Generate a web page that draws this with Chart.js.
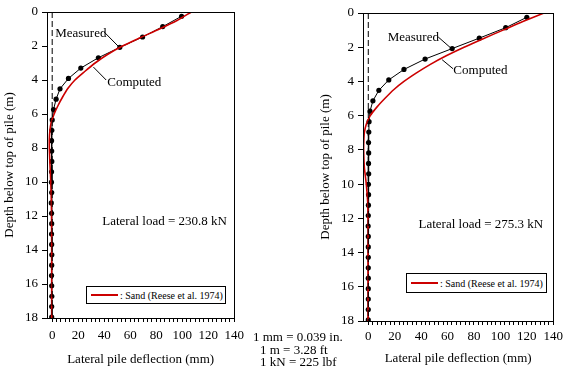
<!DOCTYPE html>
<html><head><meta charset="utf-8">
<script src="https://cdn.jsdelivr.net/npm/chart.js@4/dist/chart.umd.min.js"></script>
<style>
html,body{margin:0;padding:0;background:#fff;}
body{width:567px;height:379px;position:relative;overflow:hidden;font-family:"Liberation Serif","Times New Roman",serif;color:#000;}
canvas{position:absolute;top:0;}
#c1{left:0;}
#c2{left:316px;}
.legend{position:absolute;border:1px solid #000;background:#fff;font-size:10px;box-sizing:border-box;display:flex;align-items:center;white-space:nowrap;}
.legend .swatch{display:inline-block;width:27px;height:2px;background:#cc0000;margin:0 2px 0 4px;}
.conv{position:absolute;font-size:13px;line-height:13px;white-space:nowrap;}
</style></head>
<body>
<canvas id="c1" width="250" height="379"></canvas>
<canvas id="c2" width="251" height="379"></canvas>
<div class="legend" style="left:86px;top:286px;width:140px;height:18px;"><span class="swatch"></span><span id="lg1"></span></div>
<div class="legend" style="left:406px;top:273px;width:141px;height:20px;"><span class="swatch"></span><span id="lg2"></span></div>
<div class="conv" style="left:253px;top:330px;">1 mm = 0.039 in.</div>
<div class="conv" style="left:260px;top:343px;">1 m = 3.28 ft</div>
<div class="conv" style="left:260px;top:355px;">1 kN = 225 lbf</div>
<script>
// ---------- data ----------
const measuredDepth = [0.25, 0.86, 1.47, 2.08, 2.69, 3.30, 3.91, 4.52, 5.13, 5.74, 6.35, 6.96, 7.57, 8.18, 8.79, 9.40, 10.01, 10.62, 11.23, 11.84, 12.45, 13.06, 13.67, 14.28, 14.89, 15.50, 16.11, 16.72, 17.33, 17.94];
const leftMeasured = [99.5, 85, 69.5, 52, 35.5, 22, 12.5, 6, 3, 1, 0, -0.3, -0.5, -0.4, -0.3, -0.5, -0.6, -0.4, -0.7, -0.5, -0.4, -0.5, -0.4, -0.3, -0.4, -0.5, -0.4, -0.3, -0.4, -0.4];
const rightMeasured = [120, 104, 84, 63.5, 43, 27, 15.5, 8, 3.5, 1.3, 0.6, 0.4, 0.2, 0.3, 0.2, 0.3, 0.1, 0.2, 0.1, 0, -0.1, 0, 0, 0, 0, 0, 0, 0, 0, 0];
const computedDepth = [0, 0.5, 1, 1.5, 2, 2.5, 3, 3.5, 4, 4.5, 5, 5.5, 6, 6.5, 7, 7.5, 8, 9, 10, 11, 12, 14, 16, 18];
const leftComputed = [107, 96, 82.5, 68, 54, 42.5, 33, 25, 17.5, 12, 8, 4.5, 1.5, -0.8, -1.8, -2.2, -2.2, -1.7, -1.1, -0.7, -0.5, -0.4, -0.4, -0.4];
const rightComputed = [133, 117, 102, 87, 72.5, 59, 47, 36.5, 27, 19, 12.5, 6.5, 1.5, -1.5, -3, -3.4, -3.5, -3, -1.5, -0.5, -0.2, -0.2, -0.2, -0.2];
const zeroLineX = [0, 0];
const zeroLineDepth = [0, 18];
const xTickLabels = [0, 20, 40, 60, 80, 100, 120, 140];
const yTickLabels = [0, 2, 4, 6, 8, 10, 12, 14, 16, 18];
const xMin = -4, xMax = 140, yMin = 0, yMax = 18;
const measuredName = 'Measured';
const computedName = 'Computed';
const legendName = ': Sand (Reese et al. 1974)';
const leftLoad = 'Lateral load = 230.8 kN';
const rightLoad = 'Lateral load = 275.3 kN';
const xTitle = 'Lateral pile deflection (mm)';
const yTitle = 'Depth below top of pile (m)';

document.getElementById('lg1').textContent = legendName;
document.getElementById('lg2').textContent = legendName;

const FONT = '"Liberation Serif", "Times New Roman", serif';
const RED = '#cc0000';

const annotPlugin = {
  id: 'annot',
  afterDatasetsDraw(chart, args, opts) {
    const {ctx, chartArea, scales} = chart;
    const x = scales.x, y = scales.y;
    ctx.save();
    ctx.strokeStyle = '#000';
    ctx.lineWidth = 1;
    ctx.strokeRect(Math.round(chartArea.left) + 0.5, Math.round(chartArea.top) + 0.5,
      Math.round(chartArea.right - chartArea.left), Math.round(chartArea.bottom - chartArea.top));
    (opts.leaders || []).forEach(l => {
      ctx.beginPath();
      ctx.moveTo(x.getPixelForValue(l[0]), y.getPixelForValue(l[1]));
      ctx.lineTo(x.getPixelForValue(l[2]), y.getPixelForValue(l[3]));
      ctx.stroke();
    });
    ctx.font = '13px ' + FONT;
    ctx.fillStyle = '#000';
    ctx.textBaseline = 'middle';
    ctx.textAlign = 'left';
    (opts.texts || []).forEach(t => ctx.fillText(t.text, x.getPixelForValue(t.x), y.getPixelForValue(t.y)));
    ctx.restore();
  }
};

function pts(xs, ys) { return xs.map((v, i) => ({x: v, y: ys[i]})); }

function makeChart(id, measured, computed, annot, lay) {
  return new Chart(document.getElementById(id), {
    type: 'scatter',
    data: {
      datasets: [
        {data: pts(zeroLineX, zeroLineDepth), showLine: true, borderColor: '#000', borderWidth: 1, borderDash: [6, 3], pointRadius: 0},
        {label: computedName, data: pts(computed, computedDepth), showLine: true, borderColor: RED, borderWidth: 1.6, pointRadius: 0, tension: 0.25},
        {label: measuredName, data: pts(measured, measuredDepth), showLine: true, borderColor: '#000', borderWidth: 1, pointRadius: 2.6, pointBackgroundColor: '#000', pointBorderColor: '#000', pointBorderWidth: 0, tension: 0}
      ]
    },
    options: {
      responsive: false, animation: false, devicePixelRatio: 1,
      layout: {padding: {top: lay.top, right: lay.right, left: 0, bottom: 0}},
      plugins: {legend: {display: false}, tooltip: {enabled: false}, annot: annot},
      scales: {
        x: {
          type: 'linear', min: xMin, max: xMax,
          afterFit: s => { s.height = lay.xHeight; },
          afterBuildTicks: s => {
            const t = [];
            for (let i = 0; i < xTickLabels.length; i++) {
              t.push({value: xTickLabels[i]});
              if (i < xTickLabels.length - 1) {
                const step = (xTickLabels[i + 1] - xTickLabels[i]) / 6;
                for (let k = 1; k < 6; k++) t.push({value: xTickLabels[i] + k * step});
              }
            }
            s.ticks = t;
          },
          ticks: {
            autoSkip: false, maxRotation: 0, padding: lay.xPad, color: '#000',
            font: {family: FONT, size: 13},
            callback: v => xTickLabels.some(l => Math.abs(l - v) < 1e-6) ? String(Math.round(v)) : ''
          },
          grid: {drawOnChartArea: false, drawTicks: true, tickLength: 4, color: '#000'},
          border: {display: true, color: '#000', width: 1},
          title: {display: true, text: xTitle, color: '#000', font: {family: FONT, size: 13}, padding: {top: 0, bottom: lay.xTitlePad}}
        },
        y: {
          type: 'linear', min: yMin, max: yMax, reverse: true,
          afterFit: s => { s.width = lay.yWidth; },
          afterBuildTicks: s => { s.ticks = yTickLabels.map(v => ({value: v})); },
          ticks: {padding: 4, color: '#000', font: {family: FONT, size: 13}},
          grid: {drawOnChartArea: false, drawTicks: true, tickLength: 5, color: '#000'},
          border: {display: true, color: '#000', width: 1},
          title: {display: true, text: yTitle, color: '#000', font: {family: FONT, size: 13}, padding: {top: 2, bottom: 0}}
        }
      }
    },
    plugins: [annotPlugin]
  });
}

makeChart('c1', leftMeasured, leftComputed, {
  texts: [
    {text: measuredName, x: 2.3, y: 1.24},
    {text: computedName, x: 42.3, y: 4.18},
    {text: leftLoad, x: 38.5, y: 12.35}
  ],
  leaders: [[40, 1.18, 50.6, 2.0], [31.7, 3.24, 41.5, 4.0]]
}, {top: 12, right: 13, xHeight: 61, yWidth: 47, xPad: 6, xTitlePad: 12});

makeChart('c2', rightMeasured, rightComputed, {
  texts: [
    {text: measuredName, x: 14.7, y: 1.43},
    {text: computedName, x: 64.4, y: 3.37},
    {text: rightLoad, x: 38, y: 12.38}
  ],
  leaders: [[52.9, 1.40, 63.4, 2.11], [55.9, 2.73, 64.2, 3.26]]
}, {top: 13, right: 13, xHeight: 58, yWidth: 47, xPad: 4, xTitlePad: 13});
</script>
</body></html>
